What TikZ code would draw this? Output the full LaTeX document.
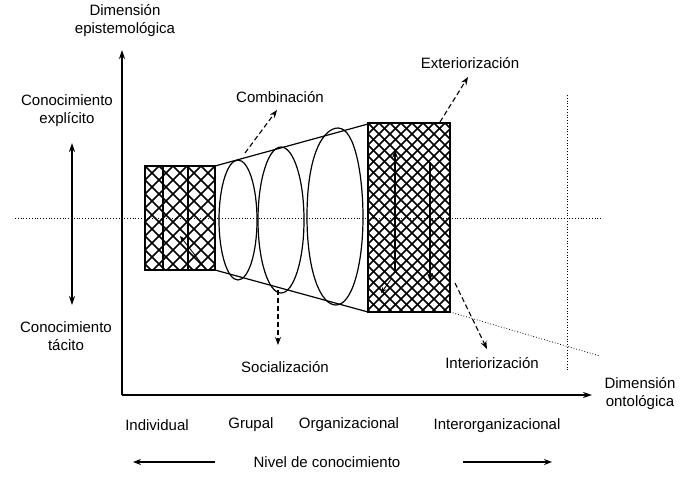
\documentclass[tikz,border=0pt]{standalone}
\usepackage{fontspec}
\setmainfont{Liberation Sans}
\usetikzlibrary{arrows.meta}
\begin{document}
\begin{tikzpicture}[x=1pt,y=-1pt,
  lbl/.style={font=\fontsize{15}{18}\selectfont, align=center, inner sep=0pt},
  axisline/.style={line width=1.4pt, -{Stealth[length=9pt,width=6pt]}},
  dasharrow/.style={line width=1.1pt, dash pattern=on 5pt off 3pt, -{Stealth[length=8pt,width=6pt]}},
  dotline/.style={line width=0.8pt, dotted},
  hatch/.style={line width=1.5pt},
  boxline/.style={line width=1.8pt},
  curveline/.style={line width=1.2pt},
  levelarrow/.style={line width=1.2pt, -{Stealth[length=8pt,width=6pt]}},
]
\useasboundingbox (0,0) rectangle (700,480);

% guide lines
\coordinate (hl) at (15,218);
\coordinate (hr) at (603,218);
\coordinate (vt) at (567,95);
\coordinate (vb) at (567,372);
\coordinate (dl) at (450,312);
\coordinate (dr) at (600,356);
\draw[dotline] (hl) -- (hr);
\draw[dotline] (vt) -- (vb);
\draw[dotline] (dl) -- (dr);

% axes
\coordinate (origin) at (122,395);
\coordinate (ytip) at (122,50);
\coordinate (xtip) at (592,395);
\draw[axisline] (origin) -- (ytip);
\draw[axisline] (origin) -- (xtip);

% labels
\node[lbl] (epist) at (125,21) {Dimensión\\epistemológica};
\node[lbl] (explicito) at (67,111) {Conocimiento\\explícito};
\node[lbl] (tacito) at (66,336) {Conocimiento\\tácito};
\node[lbl] (ontol) at (640,394) {Dimensión\\ontológica};
\node[lbl] (comb) at (280,97) {Combinación};
\node[lbl] (soc) at (285,367) {Socialización};
\node[lbl] (ext) at (470,63) {Exteriorización};
\node[lbl] (int) at (492,363) {Interiorización};
\node[lbl] (indiv) at (157,425) {Individual};
\node[lbl] (grupal) at (251,425) {Grupal};
\node[lbl] (org) at (349,425) {Organizacional};
\node[lbl] (inter) at (497,426) {Interorganizacional};
\node[lbl] (nivel) at (327,462) {Nivel de conocimiento};

% explicit/tacit double arrow
\coordinate (ea) at (72,143);
\coordinate (ta) at (72,305);
\draw[line width=1.3pt, {Stealth[length=9pt,width=6pt]}-{Stealth[length=9pt,width=6pt]}] (ea) -- (ta);

% level arrows
\coordinate (la1) at (215,462);
\coordinate (la2) at (133,462);
\coordinate (ra1) at (463,462);
\coordinate (ra2) at (552,462);
\draw[levelarrow] (la1) -- (la2);
\draw[levelarrow] (ra1) -- (ra2);

% left hatched box
\begin{scope}
  \clip (145,166) rectangle (215,270);
  \foreach \k in {-112,-98,...,190} {
    \draw[hatch] (145+\k,166) -- ++(104,104);
    \draw[hatch] (145+\k,166) -- ++(-104,104);
  }
\end{scope}
\draw[boxline] (145,166) rectangle (215,270);
\draw[boxline] (163,166) -- (163,270);
\draw[boxline] (188,166) -- (188,270);
\coordinate (lsa) at (205,268);
\coordinate (lsb) at (180,236);
\draw[line width=0.9pt, -{Stealth[length=6pt,width=5pt]}] (lsa) -- (lsb);

% funnel
\coordinate (ftl) at (215,166);
\coordinate (ftr) at (368,124);
\coordinate (fbl) at (215,270);
\coordinate (fbr) at (368,312);
\draw[curveline] (ftl) -- (ftr);
\draw[curveline] (fbl) -- (fbr);

% ellipses
\draw[curveline] (238,220) ellipse [x radius=19, y radius=60];
\draw[curveline] (281,220) ellipse [x radius=23, y radius=73];
\draw[curveline] (307,217) .. controls (307,150) and (325,128) .. (338,128)
  .. controls (356,128) and (363,180) .. (363,217)
  .. controls (363,265) and (352,305) .. (336,305)
  .. controls (320,305) and (307,270) .. (307,217);

% right hatched box
\begin{scope}
  \clip (368,123) rectangle (450,312);
  \foreach \k in {-198,-187,...,290} {
    \draw[hatch] (368+\k,123) -- ++(189,189);
    \draw[hatch] (368+\k,123) -- ++(-189,189);
  }
\end{scope}
\draw[line width=2.2pt] (368,123) rectangle (450,312);
\coordinate (ua) at (395,273);
\coordinate (ub) at (395,150);
\coordinate (da) at (430,162);
\coordinate (db) at (430,281);
\draw[line width=1.8pt, -{Stealth[length=8pt,width=6pt]}] (ua) -- (ub);
\draw[line width=1.8pt, -{Stealth[length=8pt,width=6pt]}] (da) -- (db);
\coordinate (sa) at (392,278);
\coordinate (sb) at (381,293);
\draw[line width=0.9pt, -{Stealth[length=6pt,width=5pt]}] (sa) -- (sb);

% SECI dashed arrows
\coordinate (c0) at (245,153);
\coordinate (c1) at (277,110);
\draw[dasharrow] (c0) -- (c1);
\coordinate (s0) at (278,290);
\coordinate (s1) at (278,345);
\draw[dasharrow] (s0) -- (s1);
\coordinate (e0) at (440,122);
\coordinate (e1) at (468,77);
\draw[dasharrow] (e0) -- (e1);
\coordinate (i0) at (455,283);
\coordinate (i1) at (487,349);
\draw[dasharrow] (i0) -- (i1);
\end{tikzpicture}
\end{document}
